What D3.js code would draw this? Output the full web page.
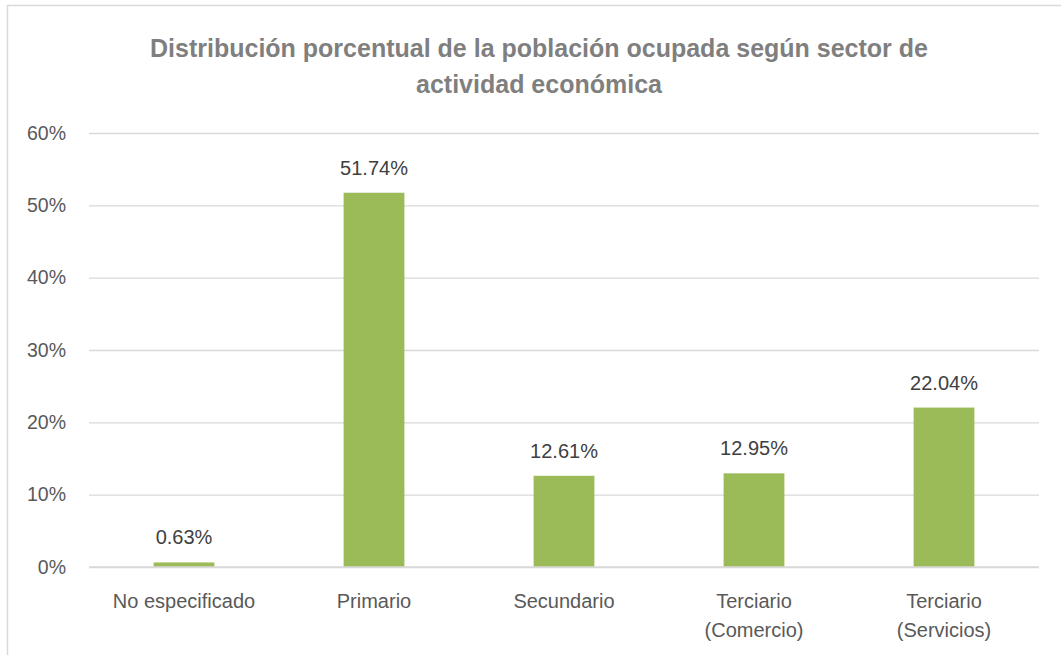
<!DOCTYPE html>
<html>
<head>
<meta charset="utf-8">
<script src="https://cdn.jsdelivr.net/npm/d3@7"></script>
<style>
  body { margin: 0; background: #fff; }
  svg { display: block; }
</style>
</head>
<body>
<div id="chart"></div>
<script>
// data
var categories = ['No especificado', 'Primario', 'Secundario', 'Terciario (Comercio)', 'Terciario (Servicios)'];
var values = [0.63, 51.74, 12.61, 12.95, 22.04];
var yTicks = [0, 10, 20, 30, 40, 50, 60];
var titleLines = ['Distribución porcentual de la población ocupada según sector de', 'actividad económica'];

var W = 1061, H = 655;
var margin = { top: 133, right: 22, bottom: 88, left: 89 };
var width = W - margin.left - margin.right,
    height = H - margin.top - margin.bottom;

var font = '"Liberation Sans", Arial, sans-serif';

var svg = d3.select('#chart')
    .append('svg')
    .attr('width', W)
    .attr('height', H);

// chart border
svg.append('rect')
    .attr('x', 7.5)
    .attr('y', 5.5)
    .attr('width', W + 10)
    .attr('height', H + 10)
    .attr('fill', '#fff')
    .attr('stroke', '#d9d9d9')
    .attr('stroke-width', 1.5);

// title
svg.append('text')
    .attr('x', 539)
    .attr('y', 57)
    .attr('text-anchor', 'middle')
    .attr('font-family', font)
    .attr('font-size', 25)
    .attr('font-weight', 'bold')
    .attr('fill', '#7f7f7f')
    .selectAll('tspan')
    .data(titleLines)
    .enter().append('tspan')
    .attr('x', 539)
    .attr('dy', (d, i) => i === 0 ? 0 : 36)
    .text(d => d);

var g = svg.append('g')
    .attr('transform', 'translate(' + margin.left + ',' + margin.top + ')');

var x = d3.scaleBand()
    .domain(categories)
    .range([0, width])
    .paddingInner(0.68)
    .paddingOuter(0.34);

var y = d3.scaleLinear()
    .domain([0, 60])
    .range([height, 0]);

// gridlines
g.append('g')
    .call(d3.axisLeft(y).tickValues(yTicks).tickSize(-width).tickFormat(''))
    .call(a => a.select('.domain').remove())
    .call(a => a.selectAll('line').attr('stroke', '#d9d9d9').attr('stroke-width', 1.3));

// y labels
g.append('g')
    .call(d3.axisLeft(y).tickValues(yTicks).tickSize(0).tickPadding(23).tickFormat(d => d + '%'))
    .call(a => a.select('.domain').remove())
    .call(a => a.selectAll('text')
        .attr('font-family', font)
        .attr('font-size', 19.5)
        .attr('fill', '#595959'));

// bars
g.selectAll('.bar')
    .data(values)
    .enter().append('rect')
    .attr('class', 'bar')
    .attr('x', (d, i) => x(categories[i]))
    .attr('y', d => y(d))
    .attr('width', x.bandwidth())
    .attr('height', d => height - y(d))
    .attr('fill', '#9bbb59');

// data labels
g.selectAll('.lbl')
    .data(values)
    .enter().append('text')
    .attr('class', 'lbl')
    .attr('x', (d, i) => x(categories[i]) + x.bandwidth() / 2)
    .attr('y', d => y(d) - 18)
    .attr('text-anchor', 'middle')
    .attr('font-family', font)
    .attr('font-size', 20)
    .attr('fill', '#404040')
    .text(d => d.toFixed(2) + '%');

// x axis line
g.append('line')
    .attr('x1', 0)
    .attr('x2', width)
    .attr('y1', height)
    .attr('y2', height)
    .attr('stroke', '#d9d9d9')
    .attr('stroke-width', 1.5);

// category labels
var xl = g.selectAll('.cat')
    .data(categories)
    .enter().append('text')
    .attr('class', 'cat')
    .attr('text-anchor', 'middle')
    .attr('font-family', font)
    .attr('font-size', 20)
    .attr('fill', '#595959')
    .attr('y', height + 41);

xl.each(function (d) {
    var cx = x(d) + x.bandwidth() / 2;
    var parts = d.indexOf(' (') > 0 ? [d.slice(0, d.indexOf(' (')), d.slice(d.indexOf(' (') + 1)] : [d];
    d3.select(this).selectAll('tspan')
        .data(parts)
        .enter().append('tspan')
        .attr('x', cx)
        .attr('dy', (p, i) => i === 0 ? 0 : 29)
        .text(p => p);
});
</script>
</body>
</html>
